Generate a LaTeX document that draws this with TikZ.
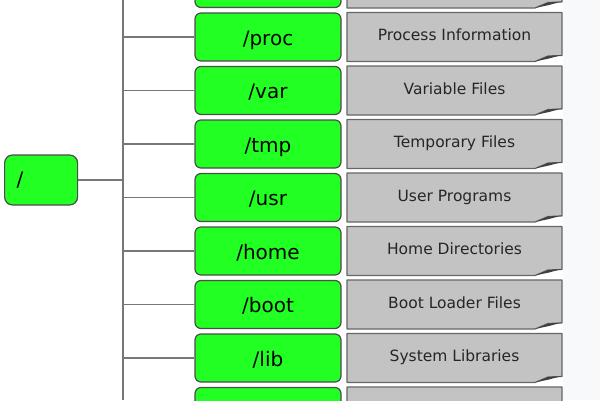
\documentclass[tikz,border=0pt]{standalone}
\usepackage{fontspec}
\setmainfont{DejaVu Sans}
\definecolor{dirgreen}{HTML}{22FF22}
\definecolor{descgray}{HTML}{C3C3C3}
\definecolor{linegray}{HTML}{777777}
\definecolor{pageback}{HTML}{F8F9FA}
\tikzset{
	dirbox/.style={draw=black!70, fill=dirgreen, rounded corners=6pt, line width=1.2pt,
		minimum width=146pt, minimum height=48pt, inner sep=0pt,
		text height=16pt, text depth=0pt, font=\fontsize{20}{24}\selectfont},
	descbox/.style={minimum width=215pt, minimum height=49pt, inner sep=0pt,
		text height=7.5pt, text depth=0pt, text=black!85, font=\fontsize{15.5}{18}\selectfont},
	descedge/.style={draw=black!60, fill=descgray, line width=1.2pt, line join=round},
	branch/.style={draw=linegray, line width=1.5pt}
}

\begin{document}
\begin{tikzpicture}[x=1pt, y=-1pt]
			%%%%% START %%%%%
			\useasboundingbox (0, 0) rectangle (600, 400);
			\clip (0, 0) rectangle (600, 400);
			\fill[pageback] (563, 0) rectangle (600, 400);
			
			\coordinate (trunktop) at (123, 0);
			\coordinate (trunkbot) at (123, 400);
			\draw[branch] (trunktop) -- (trunkbot);
			
			\node[dirbox, anchor=west, minimum width=73pt, minimum height=50pt, rounded corners=8pt,
				text width=49pt, align=left, inner xsep=12pt, text height=13pt] (root) at (4, 180) {/};
			\draw[branch] (root.east) -- (root.east -| trunktop);
			
			\foreach \y/\dir/\desc [count=\i] in {-16.5/{}/{}, 37/{/proc}/{Process Information},
				90.5/{/var}/{Variable Files}, 144/{/tmp}/{Temporary Files}, 197.5/{/usr}/{User Programs},
				251/{/home}/{Home Directories}, 304.5/{/boot}/{Boot Loader Files},
				358/{/lib}/{System Libraries}, 411.5/{}/{}} {
				\node[dirbox] (dir\i) at (268, \y) {\dir};
				\draw[branch] (dir\i.west -| trunktop) -- (dir\i.west);
				
				\draw[descedge] (347, \y-24.5) -- (562, \y-24.5) -- (562, \y+18.5) -- (548, \y+19)
					-- (535, \y+24.5) -- (347, \y+24.5) -- cycle;
				\fill[black!75] (535, \y+24.5) -- (548, \y+19) -- (562, \y+18) -- (549, \y+21.5) -- cycle;
				\node[descbox] (desc\i) at (454.5, \y) {\desc};
			}
			%%%%% END %%%%%
\end{tikzpicture}
\end{document}
